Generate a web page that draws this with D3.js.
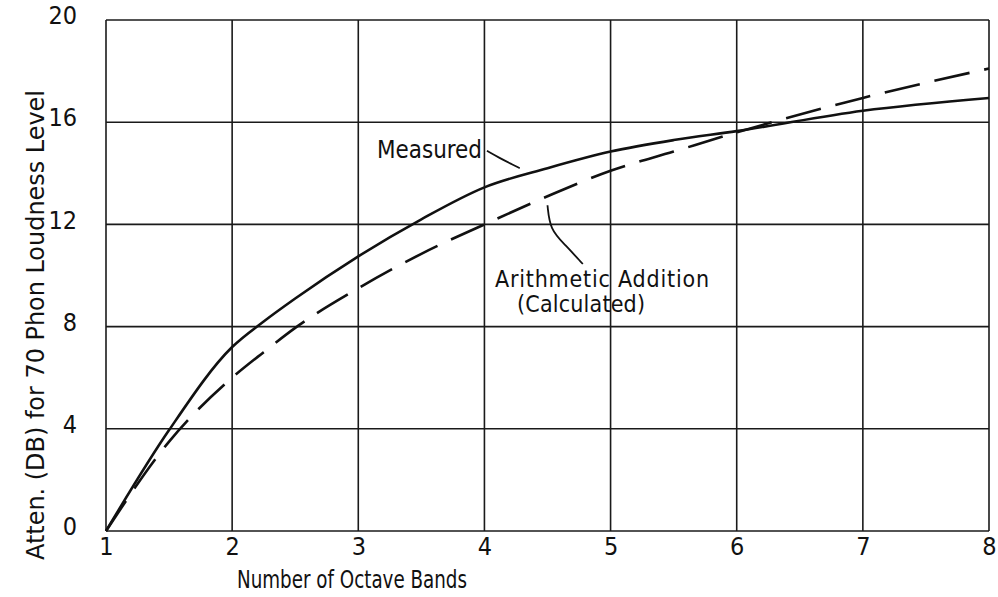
<!DOCTYPE html>
<html>
<head>
<meta charset="utf-8">
<script src="https://cdn.jsdelivr.net/npm/d3@7"></script>
<style>
  html, body { margin: 0; padding: 0; background: #fff; }
  svg text { font-family: "DejaVu Sans Condensed", "DejaVu Sans", sans-serif; font-stretch: condensed; fill: #111; }
</style>
</head>
<body>
<svg id="chart" width="998" height="597"></svg>
<script>
// Number of octave bands (x) and attenuation in dB (y)
const bands      = [1, 1.5, 2, 2.25, 2.5, 3, 3.5, 4, 4.5, 5, 5.5, 6, 7, 8];
const measured   = [0, 3.95, 7.2, 8.2, 9.1, 10.75, 12.2, 13.45, 14.2, 14.85, 15.3, 15.65, 16.45, 16.95];
const calculated = [0, 3.5, 6.0, 7.0, 7.95, 9.5, 10.85, 12.0, 13.1, 14.1, 14.85, 15.6, 16.95, 18.1];

const xTicks = [1, 2, 3, 4, 5, 6, 7, 8];
const yTicks = [0, 4, 8, 12, 16, 20];

const xTitle = "Number of Octave Bands";
const yTitle = "Atten. (DB) for 70 Phon Loudness Level";

const svg = d3.select("#chart");
const x = d3.scaleLinear().domain([1, 8]).range([106, 989]);
const y = d3.scaleLinear().domain([0, 20]).range([531, 20]);

// grid
const grid = svg.append("g").attr("stroke", "#1a1a1a").attr("stroke-width", 1.6);
grid.selectAll("line.v").data(xTicks).join("line")
  .attr("x1", d => x(d)).attr("x2", d => x(d))
  .attr("y1", y(0)).attr("y2", y(20));
grid.selectAll("line.h").data(yTicks).join("line")
  .attr("x1", x(1)).attr("x2", x(8))
  .attr("y1", d => y(d)).attr("y2", d => y(d));

// axes (labels only; grid forms the frame)
const xAxis = svg.append("g").attr("transform", `translate(0,${y(0)})`)
  .call(d3.axisBottom(x).tickValues(xTicks).tickSize(0).tickPadding(6).tickFormat(d3.format("d")));
xAxis.select(".domain").remove();
xAxis.selectAll("text").attr("font-size", 25).style("font-family", null);

const yAxis = svg.append("g").attr("transform", `translate(${x(1)},0)`)
  .call(d3.axisLeft(y).tickValues(yTicks).tickSize(0).tickPadding(29).tickFormat(d3.format("d")));
yAxis.select(".domain").remove();
yAxis.selectAll("text").attr("font-size", 25).attr("dy", "0.15em").style("font-family", null);

// curves
const line = d3.line().x(d => x(d[0])).y(d => y(d[1])).curve(d3.curveMonotoneX);

svg.append("path")
  .datum(bands.map((b, i) => [b, measured[i]]))
  .attr("d", line)
  .attr("fill", "none").attr("stroke", "#111").attr("stroke-width", 2.6);

svg.append("path")
  .datum(bands.map((b, i) => [b, calculated[i]]))
  .attr("d", line)
  .attr("fill", "none").attr("stroke", "#111").attr("stroke-width", 2.6)
  .attr("stroke-dasharray", "36,15");

// annotations with leader lines
const leader = d3.line().x(d => x(d[0])).y(d => y(d[1])).curve(d3.curveBasis);
svg.append("path")
  .datum([[4.02, 14.88], [4.12, 14.6], [4.22, 14.35], [4.28, 14.2]])
  .attr("d", leader).attr("fill", "none").attr("stroke", "#111").attr("stroke-width", 1.8);
svg.append("path")
  .datum([[4.5, 12.75], [4.52, 11.8], [4.64, 11.2], [4.78, 10.45]])
  .attr("d", leader).attr("fill", "none").attr("stroke", "#111").attr("stroke-width", 1.8);

svg.append("text").attr("x", 377).attr("y", 158).attr("font-size", 24)
  .attr("textLength", 105).attr("lengthAdjust", "spacingAndGlyphs").text("Measured");
svg.append("text").attr("x", 495).attr("y", 287).attr("font-size", 23)
  .attr("textLength", 214).attr("lengthAdjust", "spacing").text("Arithmetic Addition");
svg.append("text").attr("x", 517).attr("y", 312).attr("font-size", 23)
  .attr("textLength", 128).attr("lengthAdjust", "spacing").text("(Calculated)");

// axis titles
svg.append("text").attr("x", 237).attr("y", 588).attr("font-size", 25)
  .attr("textLength", 230).attr("lengthAdjust", "spacingAndGlyphs").text(xTitle);
svg.append("text").attr("transform", "translate(44,560) rotate(-90)").attr("font-size", 25)
  .attr("textLength", 470).attr("lengthAdjust", "spacingAndGlyphs").text(yTitle);
</script>
</body>
</html>
